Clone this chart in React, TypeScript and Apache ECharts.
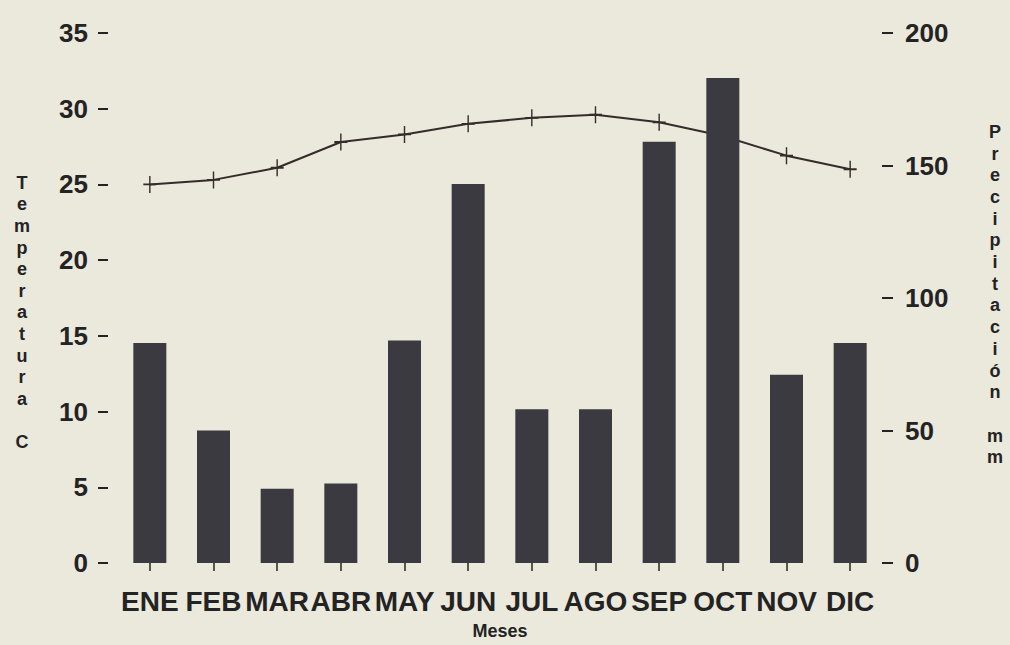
import React, { useEffect, useRef } from "react";
import * as echarts from "echarts";

const months = ["ENE", "FEB", "MAR", "ABR", "MAY", "JUN", "JUL", "AGO", "SEP", "OCT", "NOV", "DIC"];
const precipitation = [83, 50, 28, 30, 84, 143, 58, 58, 159, 183, 71, 83];
const temperature = [25.0, 25.3, 26.1, 27.8, 28.3, 29.0, 29.4, 29.6, 29.1, 28.2, 26.9, 26.0];
const tempTicks = { min: 0, max: 35, interval: 5 };
const precipTicks = { min: 0, max: 200, interval: 50 };
const leftTitle = "Temperatura C";
const rightTitle = "Precipitación mm";
const xTitle = "Meses";

const INK = "#232323";
const BG = "#ebe8dc";
const NUM_FONT = "'Liberation Sans', Arial, sans-serif";
const NARROW_FONT = "'Liberation Sans Narrow', 'Arial Narrow', 'Liberation Sans', sans-serif";

const stack = (s: string) => s.split("").map((c) => (c === " " ? "" : c)).join("\n");

export default function App() {
  const ref = useRef<HTMLDivElement>(null);
  useEffect(() => {
    if (!ref.current) return;
    const chart = echarts.init(ref.current, undefined, { renderer: "svg" });
    chart.setOption({
      animation: false,
      backgroundColor: BG,
      grid: { left: 118, right: 128, top: 33, bottom: 82 },
      xAxis: {
        type: "category",
        data: months,
        offset: 5,
        axisLine: { show: false },
        axisTick: { show: true, alignWithLabel: true, length: 8, lineStyle: { color: INK, width: 1.5 } },
        axisLabel: {
          color: INK,
          fontFamily: NARROW_FONT,
          fontWeight: "bold",
          fontSize: 28,
          margin: 19,
          interval: 0,
        },
        name: xTitle,
        nameLocation: "middle",
        nameGap: 54,
        nameTextStyle: { color: INK, fontFamily: NUM_FONT, fontWeight: "bold", fontSize: 18 },
      },
      yAxis: [
        {
          type: "value",
          position: "left",
          min: tempTicks.min,
          max: tempTicks.max,
          interval: tempTicks.interval,
          offset: 10,
          splitLine: { show: false },
          axisLine: { show: false },
          axisTick: { show: true, length: 10, lineStyle: { color: INK, width: 2 } },
          axisLabel: { color: INK, fontFamily: NUM_FONT, fontWeight: "bold", fontSize: 26, margin: 20 },
        },
        {
          type: "value",
          position: "right",
          min: precipTicks.min,
          max: precipTicks.max,
          interval: precipTicks.interval,
          splitLine: { show: false },
          axisLine: { show: false },
          axisTick: { show: true, length: 11, lineStyle: { color: INK, width: 2 } },
          axisLabel: { color: INK, fontFamily: NUM_FONT, fontWeight: "bold", fontSize: 26, margin: 23 },
        },
      ],
      series: [
        {
          type: "line",
          yAxisIndex: 0,
          data: temperature,
          z: 1,
          symbol: "path://M6,0L6,16M0,8L12,8",
          symbolSize: [13, 17],
          itemStyle: { color: "rgba(0,0,0,0)", borderColor: "#332d2a", borderWidth: 1.6 },
          lineStyle: { color: "#332d2a", width: 2 },
        },
        {
          type: "bar",
          yAxisIndex: 1,
          data: precipitation,
          z: 3,
          barWidth: 33,
          itemStyle: { color: "#3a3a40" },
        },
      ],
      graphic: [
        {
          type: "text",
          x: 22,
          y: 172,
          style: {
            text: stack(leftTitle),
            fill: INK,
            font: "bold 18px 'Liberation Sans', Arial, sans-serif",
            align: "center",
            verticalAlign: "top",
            lineHeight: 21.6,
          },
        },
        {
          type: "text",
          x: 995,
          y: 121,
          style: {
            text: stack(rightTitle),
            fill: INK,
            font: "bold 18px 'Liberation Sans', Arial, sans-serif",
            align: "center",
            verticalAlign: "top",
            lineHeight: 21.7,
          },
        },
      ],
    });
    return () => chart.dispose();
  }, []);
  return <div ref={ref} style={{ width: 1010, height: 645, position: "absolute", left: 0, top: 0 }} />;
}
